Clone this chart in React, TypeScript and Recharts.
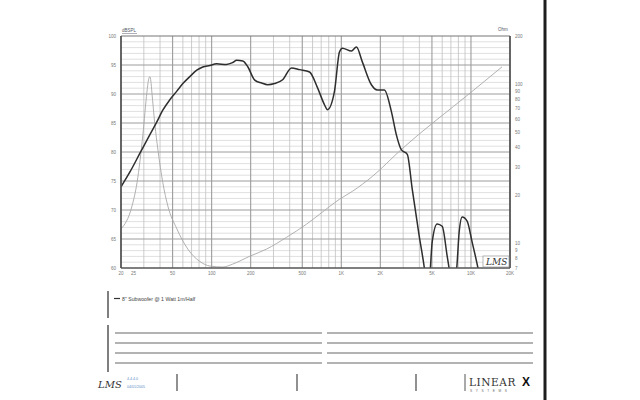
import React from "react";
import { LineChart, Line, XAxis, YAxis, ReferenceLine } from "recharts";

// SPL response (dB)
const splFreq = [
  20, 23.5, 28, 33.4, 37.8, 42, 47.6, 53.9, 60, 67.9, 76.8, 85.5, 97, 109, 130, 145, 156, 174, 190, 215, 243,
  270, 306, 353, 413, 477, 569, 655, 742, 782, 885, 968, 1020, 1197, 1307, 1455, 1706, 1897, 2148, 2432, 2656,
  2902, 3228, 3524, 3990, 4358, 4550, 4800, 5024, 5484, 6000, 6550, 6900, 7400, 7800, 8110, 8550, 9340,
  10200, 11150, 12000, 13000, 20000,
];
const splDb = [
  74.0, 76.6, 79.8, 83.0, 85.2, 87.2, 89.0, 90.5, 91.8, 93.0, 94.1, 94.65, 94.9, 95.2, 95.1, 95.4, 95.8, 95.7,
  94.7, 92.4, 91.9, 91.6, 91.8, 92.45, 94.5, 94.2, 93.8, 91.1, 88.15, 87.3, 90.4, 97.25, 97.9, 97.4, 98.1,
  95.5, 91.6, 90.7, 90.7, 87.0, 83.0, 80.4, 79.6, 73.6, 65.5, 60.2, 57, 58.5, 64.5, 67.6, 67.2, 62.1, 59, 56,
  60.5, 66.2, 68.8, 68.1, 64.5, 60.7, 57, 50, 40,
];

// impedance (Ohm)
const impFreq = [
  20, 24.3, 26.6, 29.5, 31.7, 32.6, 33.4, 34.0, 34.6, 36.5, 38.5, 42, 46, 54, 65.5, 81, 97, 122, 145, 197,
  265, 378, 540, 679, 968, 1218, 1736, 2902, 10000, 17350,
];
const impOhm = [
  12.3, 17.1, 24.1, 48, 89, 106, 111, 104, 89, 55.6, 38.8, 24.1, 17.1, 12.3, 9.2, 7.7, 7.2, 7.1, 7.4, 8.3,
  9.2, 10.9, 13.2, 15.2, 18.9, 21.2, 26.3, 38.8, 88.6, 128,
];

const freqLabels = [20, 25, 50, 100, 200, 500, 1000, 2000, 5000, 10000, 20000];
const freqGrid = [
  30, 40, 50, 60, 70, 80, 90, 100, 200, 300, 400, 500, 600, 700, 800, 900, 1000, 2000, 3000, 4000, 5000,
  6000, 7000, 8000, 9000, 10000,
];
const freqMajor = [50, 100, 200, 500, 1000, 2000, 5000, 10000];
const dbTicks = [60, 65, 70, 75, 80, 85, 90, 95, 100];
const dbMinor = Array.from({ length: 39 }, (_, i) => 61 + i).filter((v) => v % 5 !== 0);
const ohmTicks = [7, 8, 9, 10, 20, 30, 40, 50, 60, 70, 80, 90, 100, 200];

const splData = splFreq.map((f, i) => ({ f, db: splDb[i] }));
const impData = impFreq.map((f, i) => ({ f, ohm: impOhm[i] }));

const FONT = "'Liberation Sans', Arial, sans-serif";
const tickStyle = { fontSize: 4.5, fill: "#777", fontFamily: FONT };

const fmtFreq = (v: number) => (v >= 1000 ? `${v / 1000}K` : `${v}`);

const App = () => {
  return (
    <div style={{ position: "absolute", left: 0, top: 0, width: 640, height: 400, background: "#fff" }}>
      <LineChart
        width={640}
        height={290}
        margin={{ top: 36, right: 100, left: 101, bottom: 10 }}
        style={{ position: "absolute", left: 0, top: 0 }}
      >
        <XAxis
          dataKey="f"
          type="number"
          scale="log"
          domain={[20, 20000]}
          allowDataOverflow
          ticks={freqLabels}
          interval={0}
          tickFormatter={fmtFreq}
          tick={tickStyle}
          tickLine={false}
          tickSize={2}
          height={12}
          axisLine={{ stroke: "#555", strokeWidth: 1.5 }}
        />
        <YAxis
          yAxisId="spl"
          orientation="left"
          type="number"
          domain={[60, 100]}
          allowDataOverflow
          ticks={dbTicks}
          interval={0}
          tick={tickStyle}
          tickLine={false}
          tickSize={3}
          width={20}
          axisLine={{ stroke: "#555", strokeWidth: 1.8 }}
        />
        <YAxis
          yAxisId="imp"
          orientation="right"
          type="number"
          scale="log"
          domain={[7, 200]}
          allowDataOverflow
          ticks={ohmTicks}
          interval={0}
          tick={tickStyle}
          tickLine={false}
          tickSize={3}
          width={30}
          axisLine={{ stroke: "#555", strokeWidth: 1.8 }}
        />

        {dbMinor.map((v) => (
          <ReferenceLine key={`hm${v}`} yAxisId="spl" y={v} stroke="#d2d2d2" strokeWidth={0.7} />
        ))}
        {freqGrid.map((v) => (
          <ReferenceLine
            key={`v${v}`}
            yAxisId="spl"
            x={v}
            stroke={freqMajor.includes(v) ? "#9c9c9c" : "#c0c0c0"}
            strokeWidth={freqMajor.includes(v) ? 1.1 : 0.8}
          />
        ))}
        {dbTicks.slice(1, -1).map((v) => (
          <ReferenceLine key={`h${v}`} yAxisId="spl" y={v} stroke="#9c9c9c" strokeWidth={1} />
        ))}
        <ReferenceLine yAxisId="spl" y={100} stroke="#777" strokeWidth={1.2} />

        <Line
          data={impData}
          yAxisId="imp"
          dataKey="ohm"
          type="monotone"
          stroke="#a8a8a8"
          strokeWidth={0.9}
          dot={false}
          isAnimationActive={false}
        />
        <Line
          data={splData}
          yAxisId="spl"
          dataKey="db"
          type="monotone"
          stroke="#2e2e2e"
          strokeWidth={1.5}
          dot={false}
          isAnimationActive={false}
        />
      </LineChart>

      <svg width={640} height={400} style={{ position: "absolute", left: 0, top: 0, pointerEvents: "none" }}>
        <text x={122} y={32} fontSize={4.5} fill="#556" fontFamily={FONT}>dBSPL</text>
        <line x1={122} x2={137} y1={33.5} y2={33.5} stroke="#778" strokeWidth={0.6} />
        <text x={498} y={31} fontSize={4.5} fill="#556" fontFamily={FONT}>Ohm</text>

        {/* LMS mark inside plot */}
        <rect x={483} y={256} width={26} height={11} fill="#fff" stroke="#888" strokeWidth={0.6} />
        <text x={486} y={265} fontSize={9} fontStyle="italic" fill="#333" fontFamily="'DejaVu Serif', serif">LMS</text>

        {/* legend panel */}
        <line x1={108} x2={108} y1={291} y2={318} stroke="#555" strokeWidth={1.5} />
        <line x1={108} x2={108} y1={325} y2={372} stroke="#555" strokeWidth={1.5} />
        <line x1={114} x2={120} y1={298.5} y2={298.5} stroke="#333" strokeWidth={1.2} />
        <text x={122} y={300.5} fontSize={5.2} fill="#444" fontFamily={FONT}>8" Subwoofer @ 1 Watt 1m/Half</text>
        {[333, 343, 353, 363].map((y) => (
          <g key={y}>
            <line x1={115} x2={322} y1={y} y2={y} stroke="#9a9a9a" strokeWidth={1.3} />
            <line x1={327} x2={533} y1={y} y2={y} stroke="#9a9a9a" strokeWidth={1.3} />
          </g>
        ))}

        {/* footer */}
        <text x={98} y={388} fontSize={10} fontStyle="italic" fill="#333" fontFamily="'DejaVu Serif', serif">LMS</text>
        <text x={127} y={380} fontSize={3.6} fill="#5b8fc8" fontFamily={FONT}>4.4.4.0</text>
        <text x={127} y={387.5} fontSize={3.6} fill="#5b8fc8" fontFamily={FONT}>04/01/2005</text>
        {[177, 297, 416].map((x) => (
          <line key={x} x1={x} x2={x} y1={374} y2={391} stroke="#555" strokeWidth={1.3} />
        ))}
        <line x1={465} x2={465} y1={374} y2={391} stroke="#555" strokeWidth={1} />
        <text x={469} y={386} fontSize={10.5} fill="#333" fontFamily="'DejaVu Serif', serif" letterSpacing={0.6}>LINEAR</text>
        <text x={522} y={386} fontSize={12} fontWeight="bold" fill="#111" fontFamily={FONT}>X</text>
        <text x={470} y={392} fontSize={3.2} fill="#666" fontFamily={FONT} letterSpacing={3.6}>SYSTEMS</text>

        <rect x={543.5} y={0} width={3} height={400} fill="#1e1e1e" />
      </svg>
    </div>
  );
};

export default App;
